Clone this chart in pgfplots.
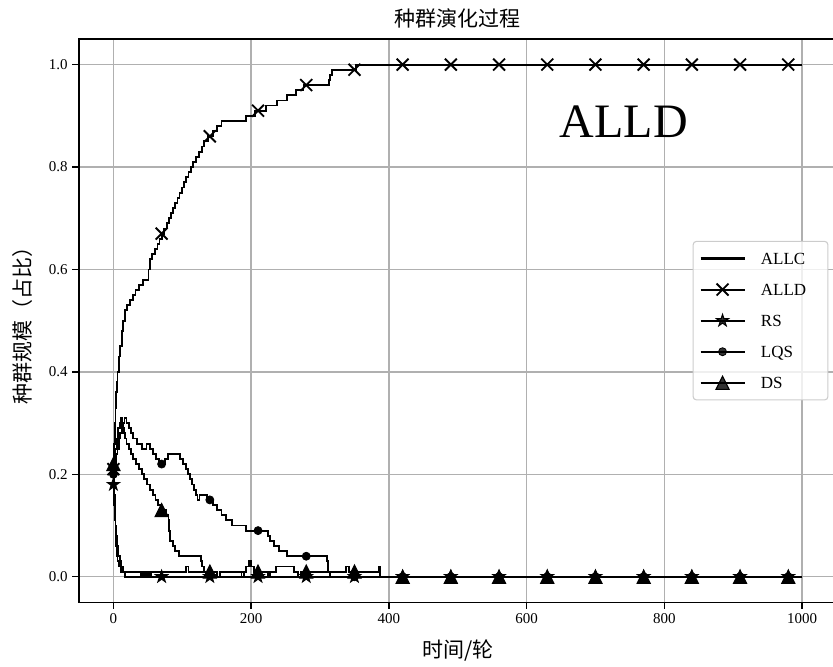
\documentclass[border=0pt]{standalone}
\usepackage{fontspec}
\setmainfont{Liberation Serif}
\newfontfamily\cjk{Noto Sans CJK SC}
\usepackage{pgfplots}
\pgfplotsset{compat=1.18}

% filled five-point star and matplotlib-like triangle
\pgfdeclareplotmark{fstar}{%
  \pgfpathmoveto{\pgfpointpolar{90}{\pgfplotmarksize}}%
  \pgfpathlineto{\pgfpointpolar{126}{0.382\pgfplotmarksize}}%
  \pgfpathlineto{\pgfpointpolar{162}{\pgfplotmarksize}}%
  \pgfpathlineto{\pgfpointpolar{198}{0.382\pgfplotmarksize}}%
  \pgfpathlineto{\pgfpointpolar{234}{\pgfplotmarksize}}%
  \pgfpathlineto{\pgfpointpolar{270}{0.382\pgfplotmarksize}}%
  \pgfpathlineto{\pgfpointpolar{306}{\pgfplotmarksize}}%
  \pgfpathlineto{\pgfpointpolar{342}{0.382\pgfplotmarksize}}%
  \pgfpathlineto{\pgfpointpolar{18}{\pgfplotmarksize}}%
  \pgfpathlineto{\pgfpointpolar{54}{0.382\pgfplotmarksize}}%
  \pgfpathclose\pgfusepathqfillstroke}
\pgfdeclareplotmark{mtri}{%
  \pgfpathmoveto{\pgfqpoint{0pt}{\pgfplotmarksize}}%
  \pgfpathlineto{\pgfqpoint{-\pgfplotmarksize}{-\pgfplotmarksize}}%
  \pgfpathlineto{\pgfqpoint{\pgfplotmarksize}{-\pgfplotmarksize}}%
  \pgfpathclose\pgfusepathqfillstroke}

\pgfplotsset{
  evo/.style={black, line width=1.4pt, const plot, mark=none, forget plot},
  pts/.style={black, only marks},
}

\begin{document}
\begin{tikzpicture}
\begin{axis}[
  scale only axis,
  width=568.1pt, height=422.5pt,
  xmin=-50, xmax=1050, ymin=-0.05, ymax=1.05,
  xtick={0,200,...,1000},
  ytick={0,0.2,0.4,0.6,0.8,1.0},
  tick pos=left,
  tick align=outside,
  major tick length=5pt,
  tick style={black, line width=1pt},
  axis line style={black, line width=1.2pt},
  grid=major,
  grid style={color=black!31, line width=1.1pt},
  /pgf/number format/assume math mode=true,
  tick label style={font=\fontsize{11.25}{13}\selectfont},
  xticklabel style={/pgf/number format/1000 sep={}},
  yticklabel style={/pgf/number format/.cd, fixed, fixed zerofill, precision=1},
  every axis title shift=0pt,
  title={\cjk 种群演化过程},
  title style={at={(axis description cs:0.5,1.0373)}, anchor=center, font=\fontsize{15.75}{18}\selectfont},
  xlabel={\cjk 时间/轮},
  xlabel style={at={(axis description cs:0.5,-0.0847)}, anchor=center, font=\fontsize{15.75}{18}\selectfont},
  ylabel={\cjk 种群规模（占比）},
  ylabel style={at={(axis description cs:-0.0752,0.5)}, anchor=center, font=\fontsize{15.75}{18}\selectfont},
  legend image code/.code={%
    \draw[sharp plot, mark repeat=2, mark phase=2, line width=1.4pt]
      plot coordinates {(0pt,0pt) (16.5pt,0pt) (33pt,0pt)};},
  legend cell align=left,
  legend style={
    at={(axis description cs:1,0.5)}, anchor=east, xshift=-6pt,
    draw=black!20, line width=0.8pt, rounded corners=2.5pt,
    fill=white, fill opacity=0.8, text opacity=1,
    font=\fontsize{12.75}{14}\selectfont,
    inner xsep=4.75pt, inner ysep=5.2pt,
    row sep=8pt, column sep=9.5pt,
  },
]

% ALLC
\addplot[black, line width=1.4pt, const plot, mark=none,
  legend image code/.code={\draw[black, line width=1.6pt] (0pt,0pt) -- (33pt,0pt);}] coordinates {
(0,0.20)(1,0.16)(2,0.13)(3,0.10)(4,0.08)(5,0.06)(7,0.04)(9,0.03)(11,0.02)(14,0.01)
(40,0)(41,0.01)(43,0)(44,0.01)(46,0)(47,0.01)(50,0)(51,0.01)(53,0)(55,0.01)
(106,0.02)(109,0.01)(135,0)(183,0)(186,0.01)(189,0)(1000,0)};
\addlegendentry{\makebox[43.5pt][l]{\strut ALLC}}

% ALLD
\addplot[evo] coordinates {
(0,0.21)(1,0.26)(2,0.30)(3,0.33)(4,0.36)(5,0.38)(6,0.40)(8,0.43)(10,0.45)(12,0.48)
(14,0.50)(17,0.52)(20,0.53)(24,0.54)(28,0.55)(32,0.56)(37,0.57)(43,0.58)(51,0.60)(53,0.62)
(56,0.63)(60,0.64)(64,0.65)(67,0.66)(70,0.67)(74,0.68)(78,0.69)(81,0.70)(84,0.71)(87,0.72)
(90,0.73)(93,0.74)(96,0.75)(99,0.76)(102,0.77)(105,0.78)(109,0.79)(113,0.80)(116,0.81)(120,0.82)
(124,0.83)(128,0.84)(132,0.85)(137,0.86)(145,0.87)(150,0.88)(157,0.89)(192,0.90)(205,0.91)(222,0.92)
(238,0.93)(252,0.94)(265,0.95)(276,0.96)(313,0.97)(315,0.98)(317,0.99)(352,1.00)(1000,1.00)};
\addplot[pts, mark=x, mark size=6.3pt, mark options={line width=1.4pt}] coordinates {
(0,0.21)(70,0.67)(140,0.86)(210,0.91)(280,0.96)(350,0.99)(420,1)(490,1)
(560,1)(630,1)(700,1)(770,1)(840,1)(910,1)(980,1)};
\addlegendentry{\makebox[43.5pt][l]{\strut ALLD}}

% RS
\addplot[evo] coordinates {
(0,0.18)(1,0.14)(2,0.11)(3,0.08)(4,0.06)(5,0.04)(6,0.03)(8,0.02)(11,0.01)(17,0)(1000,0)};
\addplot[pts, mark=fstar, mark size=4.7pt, mark options={line width=0.8pt, fill=black}] coordinates {
(0,0.18)(70,0)(140,0)(210,0)(280,0)(350,0)(420,0)(490,0)
(560,0)(630,0)(700,0)(770,0)(840,0)(910,0)(980,0)};
\addlegendentry{\makebox[43.5pt][l]{\strut RS}}

% LQS
\addplot[evo] coordinates {
(0,0.20)(2,0.22)(4,0.24)(6,0.25)(8,0.27)(10,0.28)(12,0.29)(14,0.30)(16,0.31)(19,0.30)
(22,0.29)(26,0.28)(29,0.27)(34,0.26)(41,0.25)(48,0.26)(53,0.25)(57,0.24)(62,0.23)(66,0.22)
(75,0.23)(79,0.24)(97,0.23)(101,0.22)(105,0.21)(108,0.20)(111,0.19)(114,0.18)(117,0.17)(120,0.16)
(122,0.15)(125,0.16)(136,0.15)(145,0.14)(150,0.13)(157,0.12)(163,0.11)(172,0.10)(193,0.09)(224,0.08)
(228,0.07)(233,0.06)(240,0.05)(252,0.04)(310,0.03)(312,0.01)(314,0)(1000,0)};
\addplot[pts, mark=*, mark size=3pt, mark options={line width=0.6pt, fill=black}] coordinates {
(0,0.20)(70,0.22)(140,0.15)(210,0.09)(280,0.04)(350,0)(420,0)(490,0)
(560,0)(630,0)(700,0)(770,0)(840,0)(910,0)(980,0)};
\addlegendentry{\makebox[43.5pt][l]{\strut LQS}}

% DS
\addplot[evo] coordinates {
(0,0.22)(1,0.23)(3,0.25)(5,0.27)(7,0.29)(9,0.30)(11,0.31)(13,0.29)(15,0.28)(17,0.27)
(19,0.26)(22,0.25)(25,0.24)(29,0.23)(33,0.22)(37,0.21)(41,0.20)(45,0.19)(49,0.18)(53,0.17)
(57,0.16)(61,0.15)(65,0.14)(69,0.13)(76,0.12)(80,0.11)(81,0.09)(82,0.07)(86,0.06)(90,0.05)
(95,0.04)(127,0.03)(129,0.02)(132,0.01)(150,0)(155,0.01)(192,0.02)(197,0.03)(200,0.02)(204,0.01)
(225,0)(228,0.01)(236,0.02)(262,0.01)(268,0)(272,0.01)(338,0.02)(342,0.01)(385,0.02)(387,0)(1000,0)};
\addplot[pts, mark=mtri, mark size=4.9pt, mark options={line width=0.8pt, fill=black}] coordinates {
(0,0.22)(70,0.13)(140,0.01)(210,0.01)(280,0.01)(350,0.01)(420,0)(490,0)
(560,0)(630,0)(700,0)(770,0)(840,0)(910,0)(980,0)};
\addlegendentry{\makebox[43.5pt][l]{\strut DS}}

\node[anchor=base west, inner sep=0pt, font=\fontsize{36}{36}\selectfont] at (axis cs:648,0.857) {ALLD};
\end{axis}
% the reference is cut off just left of the right spine
\pgfresetboundingbox
\path[use as bounding box] ([xshift=-59.25pt,yshift=-47.8pt]current axis.south west)
  rectangle ([xshift=565.5pt,yshift=29.25pt]current axis.north west);
\end{tikzpicture}
\end{document}
